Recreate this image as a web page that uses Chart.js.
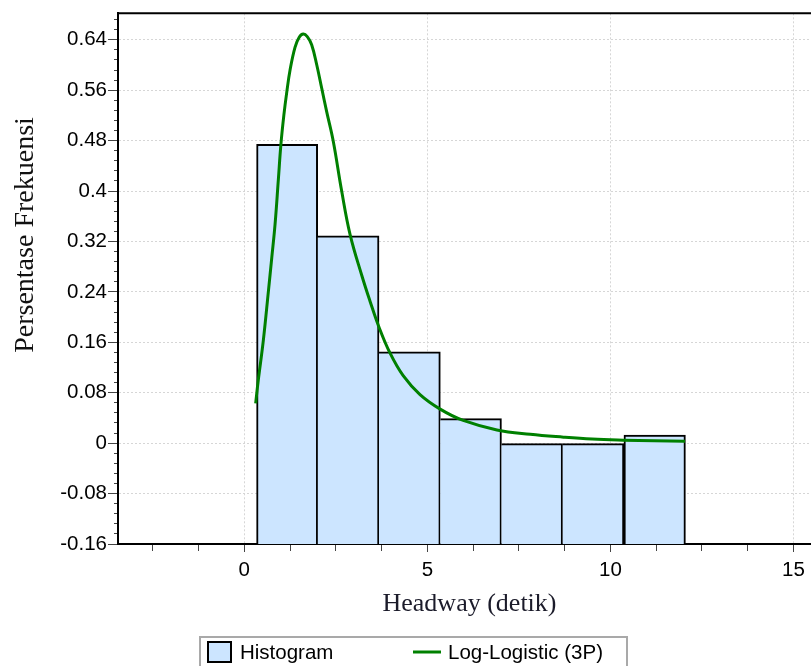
<!DOCTYPE html>
<html>
<head>
<meta charset="utf-8">
<script src="https://cdn.jsdelivr.net/npm/chart.js@4/dist/chart.umd.min.js"></script>
<style>
html,body{margin:0;padding:0;background:#fff;}
#wrap{position:relative;width:811px;height:666px;}
</style>
</head>
<body>
<div id="wrap"><canvas id="c"></canvas></div>
<script>
// ---- data ----
const binCenters   = [1.17, 2.84, 4.52, 6.19, 7.86, 9.53, 11.21];
const binFrequency = [0.474, 0.329, 0.145, 0.039, 0, 0, 0.013];

const curveX = [0.31, 0.38, 0.52, 0.66, 0.75, 0.84, 0.93, 1.0, 1.08, 1.16, 1.25, 1.385, 1.5, 1.61,
                1.72, 1.84, 1.98, 2.115, 2.25, 2.43, 2.66, 2.89, 3.21, 3.43, 3.68, 3.98, 4.34, 4.80,
                5.35, 5.98, 6.90, 7.81, 8.72, 9.5, 10.35, 11.2, 12.04];
const curveY = [0.063, 0.099, 0.163, 0.242, 0.294, 0.347, 0.418, 0.474, 0.520, 0.557, 0.592, 0.628, 0.644, 0.649,
                0.645, 0.632, 0.600, 0.563, 0.526, 0.479, 0.400, 0.331, 0.266, 0.226, 0.184, 0.143, 0.107, 0.077,
                0.054, 0.036, 0.021, 0.014, 0.0095, 0.0065, 0.0048, 0.0038, 0.0032];

const xTickLabels = [0, 5, 10, 15];
const yTickLabels = [-0.16, -0.08, 0, 0.08, 0.16, 0.24, 0.32, 0.4, 0.48, 0.56, 0.64];
const seriesNames = ['Histogram', 'Log-Logistic (3P)'];
const xAxisTitle = 'Headway (detik)';
const yAxisTitle = 'Persentase Frekuensi';

const X_MIN = -3.45, X_MAX = 15.48, Y_MIN = -0.16, Y_MAX = 0.682;
const X_MINOR = 1.25, Y_MINOR = 0.016;

const isMajor = (list, v) => list.some(t => Math.abs(t - v) < 1e-6);
const TICK_FONT = {family: '"Liberation Sans", Arial, sans-serif', size: 20.5};

const decor = {
  id: 'decor',
  afterDraw(chart) {
    const {ctx, chartArea: a} = chart;
    ctx.save();
    // top frame line
    ctx.strokeStyle = '#000'; ctx.lineWidth = 2;
    ctx.beginPath(); ctx.moveTo(a.left - 1, a.top); ctx.lineTo(a.right, a.top); ctx.stroke();

    // axis titles
    ctx.fillStyle = '#1b1b2a';
    ctx.textAlign = 'center'; ctx.textBaseline = 'middle';
    ctx.font = '26px "Liberation Serif", "Times New Roman", serif';
    ctx.fillText(xAxisTitle, (a.left + a.right) / 2 + 5, a.bottom + 60);
    ctx.save();
    ctx.translate(26, 235); ctx.rotate(-Math.PI / 2);
    ctx.fillStyle = '#111';
    ctx.font = '28px "Liberation Serif", "Times New Roman", serif';
    ctx.fillText(yAxisTitle, 0, 0);
    ctx.restore();

    // legend
    const ds = chart.data.datasets;
    const lx = 200, ly = 637, lw = 427, lh = 30;
    ctx.strokeStyle = '#a9a9a9'; ctx.lineWidth = 2;
    ctx.strokeRect(lx, ly, lw, lh);
    ctx.font = '20.5px "Liberation Sans", Arial, sans-serif';
    ctx.textAlign = 'left'; ctx.fillStyle = '#000';
    const bar = ds.find(d => d.type === 'bar');
    ctx.fillStyle = bar.backgroundColor; ctx.fillRect(208, 642, 23, 20);
    ctx.strokeStyle = '#000'; ctx.lineWidth = 2; ctx.strokeRect(208, 642, 23, 20);
    ctx.fillStyle = '#000'; ctx.fillText(bar.label, 240, 653);
    const line = ds.find(d => d.type === 'line');
    ctx.strokeStyle = line.borderColor; ctx.lineWidth = 3;
    ctx.beginPath(); ctx.moveTo(413, 652); ctx.lineTo(441, 652); ctx.stroke();
    ctx.fillStyle = '#000'; ctx.fillText(line.label, 448, 653);
    ctx.restore();
  }
};

new Chart(document.getElementById('c'), {
  type: 'bar',
  data: {
    datasets: [
      {
        type: 'line',
        label: seriesNames[1],
        data: curveX.map((x, i) => ({x, y: curveY[i]})),
        borderColor: '#008000',
        borderWidth: 3,
        pointRadius: 0,
        fill: false,
        tension: 0.4,
        order: 0
      },
      {
        type: 'bar',
        label: seriesNames[0],
        data: binCenters.map((x, i) => ({x, y: [Y_MIN, binFrequency[i]]})),
        backgroundColor: '#cce5ff',
        borderColor: '#000',
        borderWidth: (c) => {
          const i = c.dataIndex;
          const left = (i === 0 || binFrequency[i] > binFrequency[i - 1]) ? 2 : 0;
          return {top: 2, left, bottom: 0, right: 2};
        },
        borderSkipped: false,
        barThickness: 'flex',
        barPercentage: 1,
        categoryPercentage: 1,
        order: 1
      }
    ]
  },
  options: {
    responsive: true,
    maintainAspectRatio: false,
    animation: false,
    devicePixelRatio: 1,
    layout: {padding: {top: 12, left: 0, right: 0, bottom: 0}},
    plugins: {legend: {display: false}, tooltip: {enabled: false}, title: {display: false}},
    scales: {
      x: {
        type: 'linear',
        min: X_MIN, max: X_MAX,
        offset: false,
        afterFit: (s) => { s.height = 122; },
        ticks: {
          stepSize: X_MINOR, includeBounds: false, autoSkip: false, maxRotation: 0,
          font: TICK_FONT, color: '#000', padding: 6,
          callback: (v) => isMajor(xTickLabels, v) ? String(Math.round(v)) : ''
        },
        grid: {
          offset: false,
          color: (c) => (c.tick && isMajor(xTickLabels, c.tick.value)) ? '#d6d6d6' : 'rgba(0,0,0,0)',
          lineWidth: 1,
          tickLength: 8,
          tickColor: '#444',
          tickBorderDash: (c) => (c.tick && isMajor(xTickLabels, c.tick.value)) ? [] : [6, 100]
        },
        border: {display: true, color: '#000', width: 2, dash: [2, 2]}
      },
      y: {
        type: 'linear',
        min: Y_MIN, max: Y_MAX,
        afterFit: (s) => { s.width = 118; },
        ticks: {
          stepSize: Y_MINOR, includeBounds: false, autoSkip: false,
          font: TICK_FONT, color: '#000', padding: 1,
          callback: (v) => isMajor(yTickLabels, v) ? String(Math.round(v * 100) / 100) : ''
        },
        grid: {
          color: (c) => (c.tick && isMajor(yTickLabels, c.tick.value)) ? '#d6d6d6' : 'rgba(0,0,0,0)',
          lineWidth: 1,
          tickLength: 10,
          tickColor: '#444',
          tickBorderDash: (c) => (c.tick && isMajor(yTickLabels, c.tick.value)) ? [] : [0, 6, 10, 100]
        },
        border: {display: true, color: '#000', width: 2, dash: [2, 2]}
      }
    }
  },
  plugins: [decor]
});
</script>
</body>
</html>
